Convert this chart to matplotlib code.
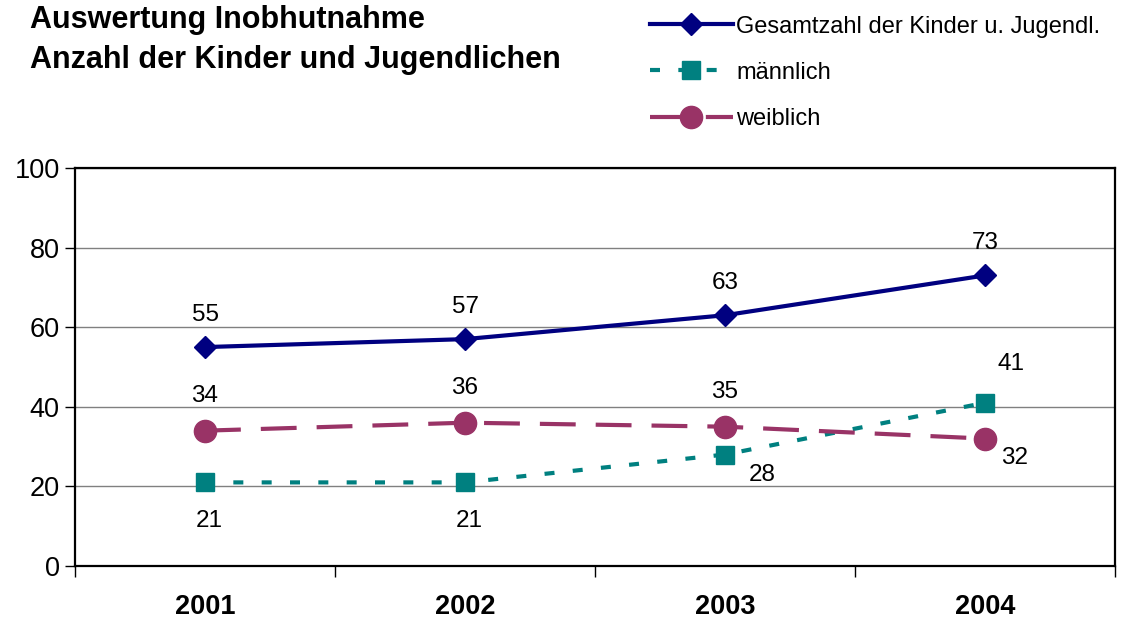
import matplotlib.pyplot as plt
import numpy as np

plt.rcParams['font.family'] = ['Liberation Sans', 'DejaVu Sans']

years = ['2001', '2002', '2003', '2004']
gesamt = [55, 57, 63, 73]
maennlich = [21, 21, 28, 41]
weiblich = [34, 36, 35, 32]

names = ['Gesamtzahl der Kinder u. Jugendl.', 'männlich', 'weiblich']
colors = ['#000080', '#008080', '#993366']

x = np.arange(len(years))

fig = plt.figure(figsize=(11.21, 6.21), dpi=100)
ax = fig.add_axes([0.0669, 0.0886, 0.9278, 0.6409])

l1, = ax.plot(x, gesamt, color=colors[0], lw=3, marker='D', ms=11,
              label=names[0], zorder=4)
l2, = ax.plot(x, maennlich, color=colors[1], lw=3, marker='s', ms=13.5,
              dashes=(2.4, 4.4), label=names[1], zorder=3)
l3, = ax.plot(x, weiblich, color=colors[2], lw=3, marker='o', ms=16,
              dashes=(8.6, 4.8), label=names[2], zorder=3)

# data labels, offsets in points
def lab(xi, yi, dx, dy):
    ax.annotate(str(yi), (xi, yi), xytext=(dx, dy), textcoords='offset points',
                ha='center', va='center', fontsize=17.5)

for i, v in enumerate(gesamt):
    lab(i, v, 0, 23)
for i, v in enumerate(weiblich[:3]):
    lab(i, v, 0, 25)
lab(3, weiblich[3], 21, -14)
lab(0, maennlich[0], 3, -28)
lab(1, maennlich[1], 3, -28)
lab(2, maennlich[2], 27, -15)
lab(3, maennlich[3], 19, 28)

ax.set_xlim(-0.5, 3.5)
ax.set_ylim(0, 100)
ax.set_yticks(range(0, 101, 20))
ax.yaxis.grid(True, color='#808080', lw=1)
ax.set_axisbelow(True)

ax.set_xticks(x)
ax.set_xticklabels(years, fontsize=19.5, fontweight='bold')
ax.set_xticks(np.arange(-0.5, 4, 1), minor=True)
ax.tick_params(axis='x', which='major', length=0, pad=20)
ax.tick_params(axis='x', which='minor', length=8, width=1)
ax.tick_params(axis='y', length=7, width=1, labelsize=19.5, pad=4)

for s in ax.spines.values():
    s.set_linewidth(1.6)

fig.text(0.027, 0.967, 'Auswertung Inobhutnahme', fontsize=22,
         fontweight='bold', va='center')
fig.text(0.027, 0.904, 'Anzahl der Kinder und Jugendlichen', fontsize=22,
         fontweight='bold', va='center')

fig.legend(handles=[l1, l2, l3], loc='upper left', bbox_to_anchor=(0.571, 0.99),
           frameon=False, fontsize=17, handlelength=3.55, handletextpad=0.12,
           labelspacing=1.02, borderaxespad=0)

fig.savefig('out.png', dpi=100)
